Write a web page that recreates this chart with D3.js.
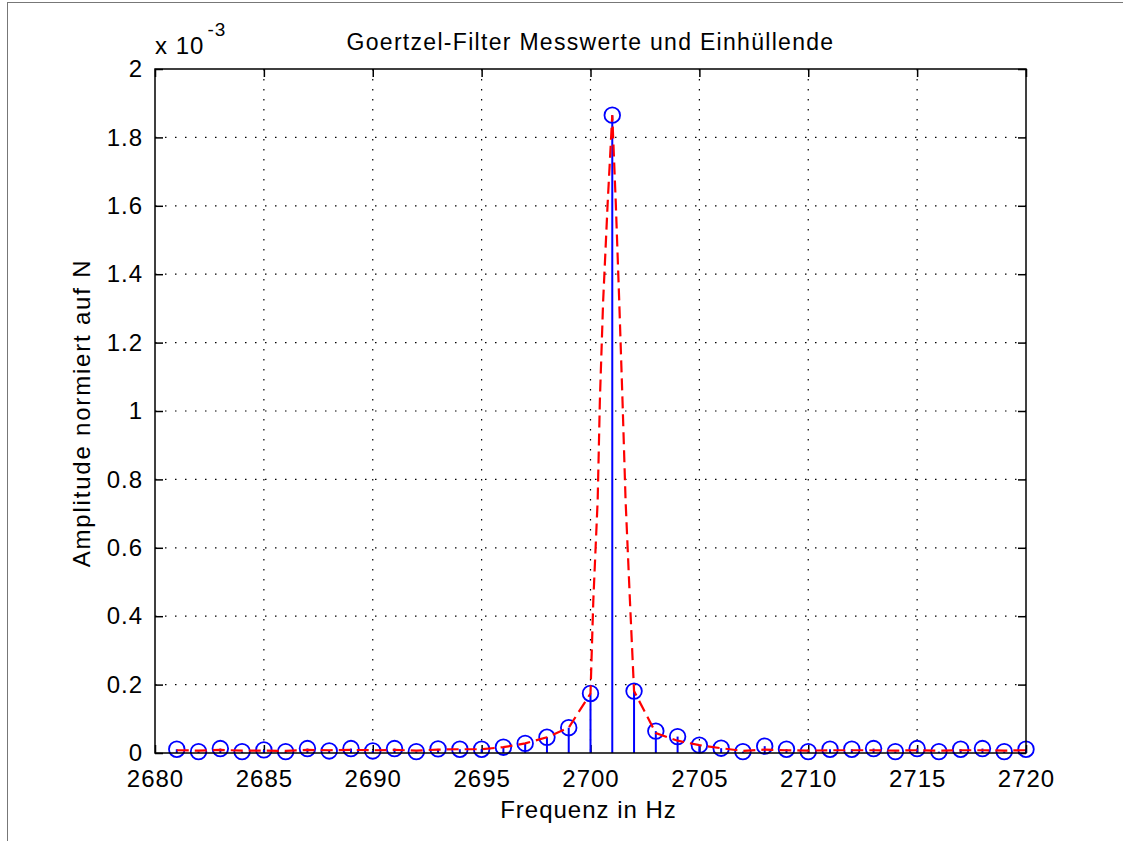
<!DOCTYPE html>
<html>
<head>
<meta charset="utf-8">
<script src="https://cdn.jsdelivr.net/npm/d3@7"></script>
<style>
  html, body { margin: 0; padding: 0; background: #fff; }
  svg { display: block; }
  text { font-family: "Liberation Sans", Arial, sans-serif; fill: #000; }
</style>
</head>
<body>
<svg id="chart" width="1123" height="841"></svg>
<script>
// ---- data (amplitudes in units of 1e-3) ----
const frequencies = [2681,2682,2683,2684,2685,2686,2687,2688,2689,2690,
  2691,2692,2693,2694,2695,2696,2697,2698,2699,2700,
  2701,2702,2703,2704,2705,2706,2707,2708,2709,2710,
  2711,2712,2713,2714,2715,2716,2717,2718,2719,2720];
const amplitudes = [0.011,0.004,0.013,0.004,0.009,0.004,0.013,0.006,0.013,0.006,
  0.013,0.004,0.012,0.011,0.011,0.017,0.028,0.046,0.074,0.174,
  1.865,0.181,0.064,0.048,0.023,0.014,0.004,0.020,0.011,0.004,
  0.011,0.011,0.013,0.004,0.013,0.004,0.011,0.013,0.004,0.011];

const envelopeFreq = [2681,2682,2683,2684,2685,2686,2687,2688,2689,2690,
  2691,2692,2693,2694,2695,2696,2697,2698,2699,2700,
  2700.13,2700.33,2700.43,2700.58,2700.79,2701,
  2701.16,2701.32,2701.47,2701.61,2701.81,2702,
  2703,2704,2705,2706,2707,2708,2709,2710,
  2711,2712,2713,2714,2715,2716,2717,2718,2719,2720];
const envelopeAmp = [0.008,0.007,0.009,0.007,0.007,0.006,0.009,0.008,0.009,0.008,
  0.009,0.007,0.010,0.011,0.011,0.017,0.028,0.046,0.074,0.174,
  0.447,0.74,1.03,1.32,1.61,1.865,
  1.61,1.32,1.03,0.74,0.447,0.181,
  0.058,0.036,0.023,0.014,0.006,0.010,0.008,0.007,
  0.008,0.008,0.008,0.007,0.008,0.007,0.008,0.008,0.007,0.008];

const xTicks = [2680,2685,2690,2695,2700,2705,2710,2715,2720];
const yTicks = [0,0.2,0.4,0.6,0.8,1,1.2,1.4,1.6,1.8,2];

const titleText = "Goertzel-Filter Messwerte und Einhüllende";
const xLabelText = "Frequenz in Hz";
const yLabelText = "Amplitude normiert auf N";

// ---- layout ----
const L = 155, R = 1026, T = 69, B = 753;
const svg = d3.select("#chart");

const x = d3.scaleLinear().domain([2680, 2720]).range([L, R]);
const y = d3.scaleLinear().domain([0, 2]).range([B, T]);

// window frame
svg.append("line").attr("x1", 7).attr("x2", 1123).attr("y1", 2.5).attr("y2", 2.5)
  .attr("stroke", "#777").attr("stroke-width", 1);
svg.append("line").attr("x1", 7.5).attr("x2", 7.5).attr("y1", 2).attr("y2", 841)
  .attr("stroke", "#777").attr("stroke-width", 1);

// grid
const grid = svg.append("g");
xTicks.slice(1, -1).forEach(t => {
  grid.append("line").attr("x1", x(t)).attr("x2", x(t)).attr("y1", T).attr("y2", B)
    .attr("stroke", "#000").attr("stroke-width", 1.2).attr("stroke-dasharray", "1.5,8.5");
});
yTicks.slice(1, -1).forEach(t => {
  grid.append("line").attr("x1", L).attr("x2", R).attr("y1", y(t)).attr("y2", y(t))
    .attr("stroke", "#000").attr("stroke-width", 1.2).attr("stroke-dasharray", "1.5,8.5");
});

// axes (inward ticks, mirrored)
const tickLen = 8;
const fmtY = d => d3.format("~g")(d);
const axB = svg.append("g").attr("transform", `translate(0,${B})`)
  .call(d3.axisBottom(x).tickValues(xTicks).tickSize(-tickLen).tickPadding(17).tickFormat(d3.format("d")));
const axT = svg.append("g").attr("transform", `translate(0,${T})`)
  .call(d3.axisTop(x).tickValues(xTicks).tickSize(-tickLen).tickFormat(""));
const axL = svg.append("g").attr("transform", `translate(${L},0)`)
  .call(d3.axisLeft(y).tickValues(yTicks).tickSize(-tickLen).tickPadding(12).tickFormat(fmtY));
const axRt = svg.append("g").attr("transform", `translate(${R},0)`)
  .call(d3.axisRight(y).tickValues(yTicks).tickSize(-tickLen).tickFormat(""));
[axB, axT, axL, axRt].forEach(a => {
  a.select(".domain").remove();
  a.selectAll(".tick line").attr("stroke", "#000").attr("stroke-width", 1.5);
  a.selectAll("text").attr("font-size", 24).attr("font-family", "Liberation Sans, Arial, sans-serif")
    .attr("letter-spacing", 1).attr("fill", "#000");
});

// stems
const stems = svg.append("g");
frequencies.forEach((f, i) => {
  stems.append("line").attr("x1", x(f)).attr("x2", x(f)).attr("y1", y(0)).attr("y2", y(amplitudes[i]))
    .attr("stroke", "#0000ff").attr("stroke-width", 2);
});
stems.selectAll("circle").data(frequencies).join("circle")
  .attr("cx", d => x(d)).attr("cy", (d, i) => y(amplitudes[i])).attr("r", 7.8)
  .attr("fill", "none").attr("stroke", "#0000ff").attr("stroke-width", 1.8);

// envelope
const line = d3.line().x((d, i) => x(envelopeFreq[i])).y((d) => y(d));
svg.append("path").datum(envelopeAmp).attr("d", line)
  .attr("fill", "none").attr("stroke", "#ff0000").attr("stroke-width", 2.2)
  .attr("stroke-dasharray", "12,6");

// axes box
svg.append("rect").attr("x", L).attr("y", T).attr("width", R - L).attr("height", B - T)
  .attr("fill", "none").attr("stroke", "#000").attr("stroke-width", 1.5);

// texts
svg.append("text").attr("x", (L + R) / 2).attr("y", 50).attr("text-anchor", "middle")
  .attr("font-size", 23).attr("letter-spacing", 1.3).text(titleText);
svg.append("text").attr("x", (L + R) / 2 - 2).attr("y", 818).attr("text-anchor", "middle")
  .attr("font-size", 24).attr("letter-spacing", 1).text(xLabelText);
svg.append("text").attr("transform", `translate(90,${(T + B) / 2 + 2}) rotate(-90)`).attr("text-anchor", "middle")
  .attr("font-size", 24).attr("letter-spacing", 1.8).text(yLabelText);
const mult = svg.append("text").attr("x", 155).attr("y", 54).attr("font-size", 24).attr("letter-spacing", 1);
mult.append("tspan").text("x 10");
mult.append("tspan").attr("dx", 3).attr("dy", -18).attr("font-size", 19).text("-3");
</script>
</body>
</html>
